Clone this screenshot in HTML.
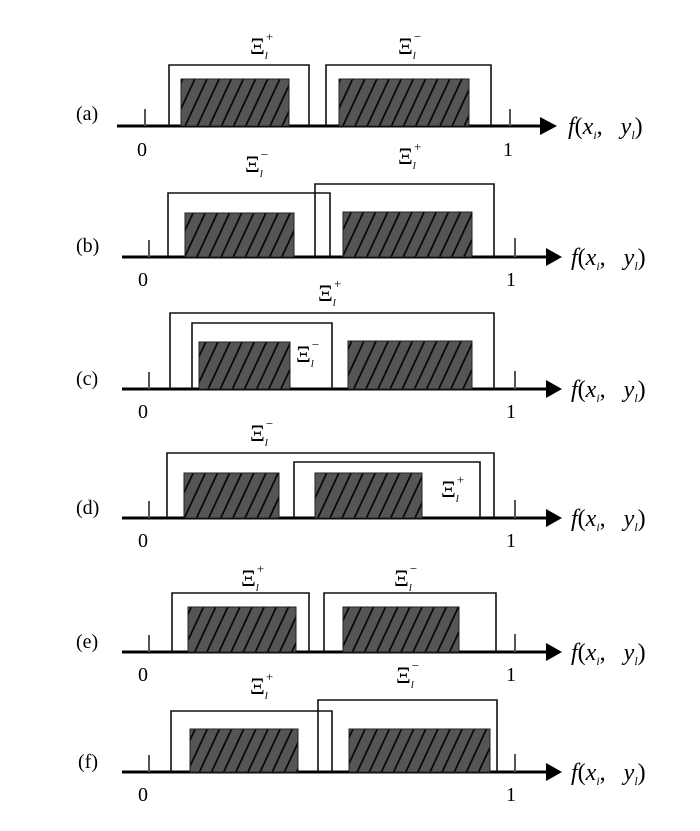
<!DOCTYPE html>
<html><head><meta charset="utf-8">
<style>
html,body{margin:0;padding:0;background:#fff;}
svg{display:block;}
text{font-family:"Liberation Serif",serif;fill:#000;}
.num{font-family:"Liberation Sans",sans-serif;font-size:20px;}
.xi{font-family:"DejaVu Serif","Liberation Serif",serif;font-size:23px;}
</style></head><body>
<svg width="700" height="831" viewBox="0 0 700 831" xmlns="http://www.w3.org/2000/svg">
<defs>
<pattern id="h" patternUnits="userSpaceOnUse" width="11" height="11" patternTransform="rotate(25)">
<rect width="11" height="11" fill="#555"/>
<line x1="1" y1="0" x2="1" y2="11" stroke="#000" stroke-width="1.6"/>
</pattern>
</defs>

<g fill="none" stroke="#000" stroke-width="1.5">
<line x1="117" y1="126" x2="545" y2="126" stroke-width="3"/>
<line x1="122" y1="257" x2="548" y2="257" stroke-width="3"/>
<line x1="122" y1="389" x2="548" y2="389" stroke-width="3"/>
<line x1="122" y1="518" x2="548" y2="518" stroke-width="3"/>
<line x1="122" y1="652" x2="548" y2="652" stroke-width="3"/>
<line x1="122" y1="772" x2="548" y2="772" stroke-width="3"/>
</g>
<g fill="#000">
<polygon points="540,117 557,126 540,135"/>
<polygon points="546,248 562,257 546,266"/>
<polygon points="546,380 562,389 546,398"/>
<polygon points="546,509 562,518 546,527"/>
<polygon points="546,643 562,652 546,661"/>
<polygon points="546,763 562,772 546,781"/>
</g>
<g stroke="#555" stroke-width="2">
<line x1="145" y1="109" x2="145" y2="126"/><line x1="510" y1="109" x2="510" y2="126"/>
<line x1="149" y1="240" x2="149" y2="257"/><line x1="515" y1="238" x2="515" y2="257"/>
<line x1="149" y1="372" x2="149" y2="389"/><line x1="515" y1="371" x2="515" y2="389"/>
<line x1="149" y1="501" x2="149" y2="518"/><line x1="515" y1="500" x2="515" y2="518"/>
<line x1="149" y1="635" x2="149" y2="652"/><line x1="515" y1="634" x2="515" y2="652"/>
<line x1="149" y1="755" x2="149" y2="772"/><line x1="515" y1="754" x2="515" y2="772"/>
</g>

<g fill="url(#h)" stroke="#222" stroke-width="1">
<rect x="181" y="79" width="108" height="47"/><rect x="339" y="79" width="130" height="47"/>
<rect x="185" y="213" width="109" height="44"/><rect x="343" y="212" width="129" height="45"/>
<rect x="199" y="342" width="91" height="47"/><rect x="348" y="341" width="124" height="48"/>
<rect x="184" y="473" width="95" height="45"/><rect x="315" y="473" width="107" height="45"/>
<rect x="188" y="607" width="108" height="45"/><rect x="343" y="607" width="116" height="45"/>
<rect x="190" y="729" width="108" height="43"/><rect x="349" y="729" width="141" height="43"/>
</g>

<g fill="none" stroke="#111" stroke-width="1.6">
<polyline points="169,126 169,65 309,65 309,126"/>
<polyline points="326,126 326,65 491,65 491,126"/>
<polyline points="168,257 168,193 330,193 330,257"/>
<polyline points="315,257 315,184 494,184 494,257"/>
<polyline points="170,389 170,313 494,313 494,389"/>
<polyline points="192,389 192,323 332,323 332,389"/>
<polyline points="167,518 167,453 494,453 494,518"/>
<polyline points="294,518 294,462 480,462 480,518"/>
<polyline points="172,652 172,593 309,593 309,652"/>
<polyline points="324,652 324,593 496,593 496,652"/>
<polyline points="171,772 171,711 332,711 332,772"/>
<polyline points="318,772 318,700 497,700 497,772"/>
</g>

<g font-size="20">
<text x="76" y="120">(a)</text>
<text x="76" y="252">(b)</text>
<text x="76" y="385">(c)</text>
<text x="76" y="514">(d)</text>
<text x="76" y="648">(e)</text>
<text x="78" y="768">(f)</text>
</g>
<g class="num">
<text x="137" y="156">0</text><text x="503" y="156">1</text>
<text x="138" y="286">0</text><text x="506" y="286">1</text>
<text x="138" y="418">0</text><text x="506" y="418">1</text>
<text x="138" y="547">0</text><text x="506" y="547">1</text>
<text x="138" y="681">0</text><text x="506" y="681">1</text>
<text x="138" y="801">0</text><text x="506" y="801">1</text>
</g>

<g font-size="24">
<text x="568" y="134"><tspan font-style="italic">f</tspan>(<tspan font-style="italic">x</tspan><tspan font-size="12" font-style="italic" dy="5">i</tspan><tspan dy="-5">,&#160;&#160;&#160;</tspan><tspan font-style="italic">y</tspan><tspan font-size="12" font-style="italic" dy="5">l</tspan><tspan dy="-5">)</tspan></text>
<text x="571" y="265"><tspan font-style="italic">f</tspan>(<tspan font-style="italic">x</tspan><tspan font-size="12" font-style="italic" dy="5">i</tspan><tspan dy="-5">,&#160;&#160;&#160;</tspan><tspan font-style="italic">y</tspan><tspan font-size="12" font-style="italic" dy="5">l</tspan><tspan dy="-5">)</tspan></text>
<text x="571" y="397"><tspan font-style="italic">f</tspan>(<tspan font-style="italic">x</tspan><tspan font-size="12" font-style="italic" dy="5">i</tspan><tspan dy="-5">,&#160;&#160;&#160;</tspan><tspan font-style="italic">y</tspan><tspan font-size="12" font-style="italic" dy="5">l</tspan><tspan dy="-5">)</tspan></text>
<text x="571" y="526"><tspan font-style="italic">f</tspan>(<tspan font-style="italic">x</tspan><tspan font-size="12" font-style="italic" dy="5">i</tspan><tspan dy="-5">,&#160;&#160;&#160;</tspan><tspan font-style="italic">y</tspan><tspan font-size="12" font-style="italic" dy="5">l</tspan><tspan dy="-5">)</tspan></text>
<text x="571" y="660"><tspan font-style="italic">f</tspan>(<tspan font-style="italic">x</tspan><tspan font-size="12" font-style="italic" dy="5">i</tspan><tspan dy="-5">,&#160;&#160;&#160;</tspan><tspan font-style="italic">y</tspan><tspan font-size="12" font-style="italic" dy="5">l</tspan><tspan dy="-5">)</tspan></text>
<text x="571" y="780"><tspan font-style="italic">f</tspan>(<tspan font-style="italic">x</tspan><tspan font-size="12" font-style="italic" dy="5">i</tspan><tspan dy="-5">,&#160;&#160;&#160;</tspan><tspan font-style="italic">y</tspan><tspan font-size="12" font-style="italic" dy="5">l</tspan><tspan dy="-5">)</tspan></text>
</g>

<g class="xi">
<text x="250" y="54">Ξ<tspan font-size="11" font-style="italic" dy="5">l</tspan><tspan font-size="13" dx="-2" dy="-18">+</tspan></text>
<text x="398" y="54">Ξ<tspan font-size="11" font-style="italic" dy="5">l</tspan><tspan font-size="13" dx="-2" dy="-18">−</tspan></text>

<text x="245" y="172">Ξ<tspan font-size="11" font-style="italic" dy="5">l</tspan><tspan font-size="13" dx="-2" dy="-18">−</tspan></text>
<text x="398" y="164">Ξ<tspan font-size="11" font-style="italic" dy="5">l</tspan><tspan font-size="13" dx="-2" dy="-18">+</tspan></text>

<text x="318" y="301">Ξ<tspan font-size="11" font-style="italic" dy="5">l</tspan><tspan font-size="13" dx="-2" dy="-18">+</tspan></text>
<text x="296" y="362">Ξ<tspan font-size="11" font-style="italic" dy="5">l</tspan><tspan font-size="13" dx="-2" dy="-18">−</tspan></text>

<text x="250" y="441">Ξ<tspan font-size="11" font-style="italic" dy="5">l</tspan><tspan font-size="13" dx="-2" dy="-18">−</tspan></text>
<text x="441" y="497">Ξ<tspan font-size="11" font-style="italic" dy="5">l</tspan><tspan font-size="13" dx="-2" dy="-18">+</tspan></text>

<text x="241" y="586">Ξ<tspan font-size="11" font-style="italic" dy="5">l</tspan><tspan font-size="13" dx="-2" dy="-18">+</tspan></text>
<text x="394" y="586">Ξ<tspan font-size="11" font-style="italic" dy="5">l</tspan><tspan font-size="13" dx="-2" dy="-18">−</tspan></text>

<text x="250" y="694">Ξ<tspan font-size="11" font-style="italic" dy="5">l</tspan><tspan font-size="13" dx="-2" dy="-18">+</tspan></text>
<text x="396" y="683">Ξ<tspan font-size="11" font-style="italic" dy="5">l</tspan><tspan font-size="13" dx="-2" dy="-18">−</tspan></text>
</g>
</svg>
</body></html>
